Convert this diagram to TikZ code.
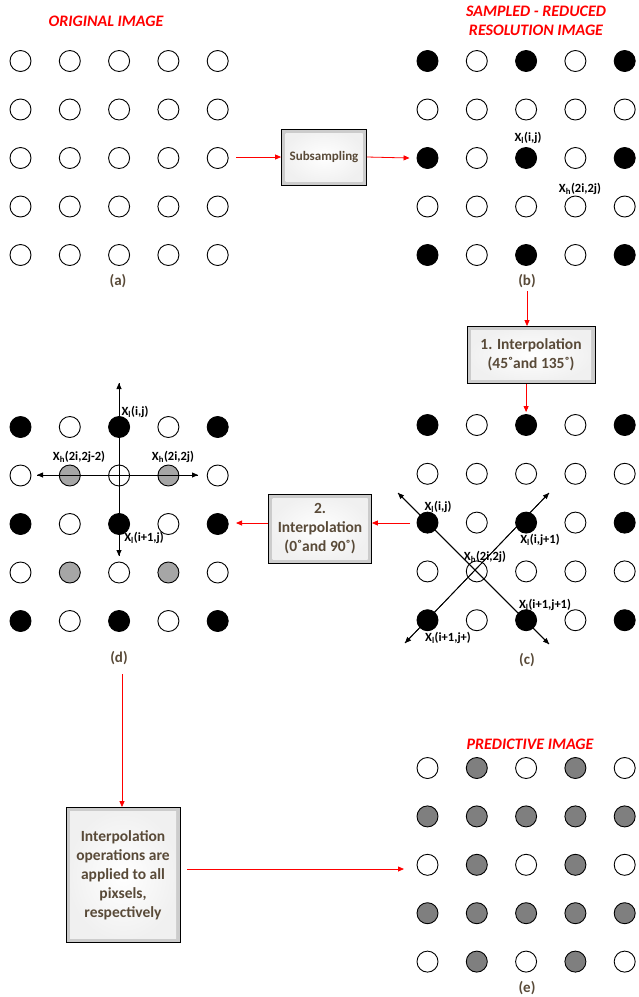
\documentclass[tikz,border=0pt]{standalone}
\usepackage{fontspec}
\setmainfont{Carlito}
\usetikzlibrary{arrows.meta}
\definecolor{txtbrown}{RGB}{89,74,56}
\definecolor{lgray}{RGB}{166,166,166}
\definecolor{dgray}{RGB}{127,127,127}
\begin{document}
\begin{tikzpicture}[x=1pt,y=-1pt,
  px/.style={circle,draw=black,line width=0.9pt,minimum size=21pt,inner sep=0pt},
  W/.style={px,fill=white}, B/.style={px,fill=black},
  G/.style={px,fill=lgray}, D/.style={px,fill=dgray},
  title/.style={text=red,font=\fontsize{16}{18}\selectfont\bfseries\itshape,align=center,inner sep=0pt},
  sublab/.style={text=txtbrown,font=\fontsize{15}{17}\selectfont\bfseries,inner sep=0pt},
  lab/.style={text=black,font=\fontsize{12.5}{14}\selectfont\bfseries,inner sep=0pt},
  bevel/.style={draw=black,line width=0.8pt,fill=gray!40,text=txtbrown,align=center,inner sep=2pt,
    path picture={\shade[inner color=white,outer color=gray!12]
      ([shift={(4pt,-4pt)}]path picture bounding box.north west) rectangle
      ([shift={(-4pt,4pt)}]path picture bounding box.south east);}},
  boxfont/.style={font=\fontsize{15.5}{19}\selectfont\bfseries},
  redarrow/.style={draw=red,line width=0.8pt,-{Triangle[length=6pt,width=5pt]}},
  blackarrow/.style={draw=black,line width=0.8pt,-{Triangle[length=6pt,width=5pt]}},
]
\useasboundingbox (0,0) rectangle (638,997);

% grids
\foreach \row [count=\i] in {{W,W,W,W,W},{W,W,W,W,W},{W,W,W,W,W},{W,W,W,W,W},{W,W,W,W,W}}
  \foreach \t [count=\j] in \row
    \node[\t] (a-\i-\j) at ({20.5+(\j-1)*49.3},{61+(\i-1)*48.5}) {};
\foreach \row [count=\i] in {{B,W,B,W,B},{W,W,W,W,W},{B,W,B,W,B},{W,W,W,W,W},{B,W,B,W,B}}
  \foreach \t [count=\j] in \row
    \node[\t] (b-\i-\j) at ({427.5+(\j-1)*49.3},{61+(\i-1)*48.5}) {};
\foreach \row [count=\i] in {{B,W,B,W,B},{W,W,W,W,W},{B,W,B,W,B},{W,W,W,W,W},{B,W,B,W,B}}
  \foreach \t [count=\j] in \row
    \node[\t] (c-\i-\j) at ({427.5+(\j-1)*49.3},{425+(\i-1)*48.8}) {};
\foreach \row [count=\i] in {{B,W,B,W,B},{W,G,W,G,W},{B,W,B,W,B},{W,G,W,G,W},{B,W,B,W,B}}
  \foreach \t [count=\j] in \row
    \node[\t] (d-\i-\j) at ({20.5+(\j-1)*49.3},{427+(\i-1)*48.5}) {};
\foreach \row [count=\i] in {{W,D,W,D,W},{D,D,D,D,D},{W,D,W,D,W},{D,D,D,D,D},{W,D,W,D,W}}
  \foreach \t [count=\j] in \row
    \node[\t] (e-\i-\j) at ({427.5+(\j-1)*49.3},{768+(\i-1)*48.4}) {};

% titles
\node[title] (ta) at (106,21) {ORIGINAL IMAGE};
\node[title] (tb) at (536,21) {SAMPLED - REDUCED\\[1pt]RESOLUTION IMAGE};
\node[title] (te) at (530,744) {PREDICTIVE IMAGE};

% sub labels
\node[sublab] (la) at (118,281) {(a)};
\node[sublab] (lb) at (527,281) {(b)};
\node[sublab] (lc) at (527,660) {(c)};
\node[sublab] (ld) at (119,658) {(d)};
\node[sublab] (le) at (527,988) {(e)};

% boxes
\node[bevel,minimum width=85pt,minimum height=56pt,font=\fontsize{13}{15}\selectfont\bfseries] (sub) at (324,157) {Subsampling};
\node[bevel,boxfont,minimum width=128pt,minimum height=57pt] (box1) at (531,355) {1. Interpolation\\(45˚and 135˚)};
\node[bevel,boxfont,minimum width=103pt,minimum height=69pt] (box2) at (320,529) {2.\\Interpolation\\(0˚and 90˚)};
\node[bevel,boxfont,minimum width=114pt,minimum height=135pt] (box3) at (123,875) {Interpolation\\operations are\\applied to all\\pixsels,\\respectively};

% red connectors
\coordinate (aout) at (236,157);
\draw[redarrow] (aout) -- (sub.west);
\draw[redarrow] (sub.east) -- ([xshift=-7pt]b-3-1.west);
\coordinate (bout) at (527,291);
\draw[redarrow] (bout) -- (bout |- box1.north);
\draw[redarrow] (box1.south -| c-1-3) -- ([yshift=2pt]c-1-3.north);
\coordinate (cout) at (410,523);
\draw[redarrow] (cout) -- (cout -| box2.east);
\coordinate (din) at (236,523);
\draw[redarrow] (din -| box2.west) -- (din);
\coordinate (dout) at (122,674);
\draw[redarrow] (dout) -- (dout |- box3.north);
\coordinate (eout) at (187,869);
\coordinate (ein) at (404,869);
\draw[redarrow] (eout) -- (ein);

% cross in (c)
\coordinate (c-tl) at (398,493);
\coordinate (c-br) at (549,644);
\coordinate (c-tr) at (549,493);
\coordinate (c-bl) at (405,643);
\draw[blackarrow] (c-br) -- (c-tl);
\draw[blackarrow] (c-tl) -- (c-br);
\draw[blackarrow] (c-bl) -- (c-tr);
\draw[blackarrow] (c-tr) -- (c-bl);

% cross in (d)
\coordinate (d-t) at (119,383);
\coordinate (d-b) at (119,556);
\coordinate (d-l) at (37,475);
\coordinate (d-r) at (198,475);
\draw[blackarrow] (d-b) -- (d-t);
\draw[blackarrow] (d-t) -- (d-b);
\draw[blackarrow] (d-r) -- (d-l);
\draw[blackarrow] (d-l) -- (d-r);

% point labels
\node[lab] (lb1) at (528,138) {X\textsubscript{l}(i,j)};
\node[lab] (lb2) at (580,189) {X\textsubscript{h}(2i,2j)};

\node[lab] (lc1) at (438,507) {X\textsubscript{l}(i,j)};
\node[lab] (lc2) at (540,540) {X\textsubscript{l}(i,j+1)};
\node[lab] (lc3) at (485,557) {X\textsubscript{h}(2i,2j)};
\node[lab] (lc4) at (545,605) {X\textsubscript{l}(i+1,j+1)};
\node[lab] (lc5) at (448,638) {X\textsubscript{l}(i+1,j+)};

\node[lab] (ld1) at (135,412) {X\textsubscript{l}(i,j)};
\node[lab] (ld2) at (79,457) {X\textsubscript{h}(2i,2j-2)};
\node[lab] (ld3) at (173,457) {X\textsubscript{h}(2i,2j)};
\node[lab] (ld4) at (144,538) {X\textsubscript{l}(i+1,j)};
\end{tikzpicture}
\end{document}
